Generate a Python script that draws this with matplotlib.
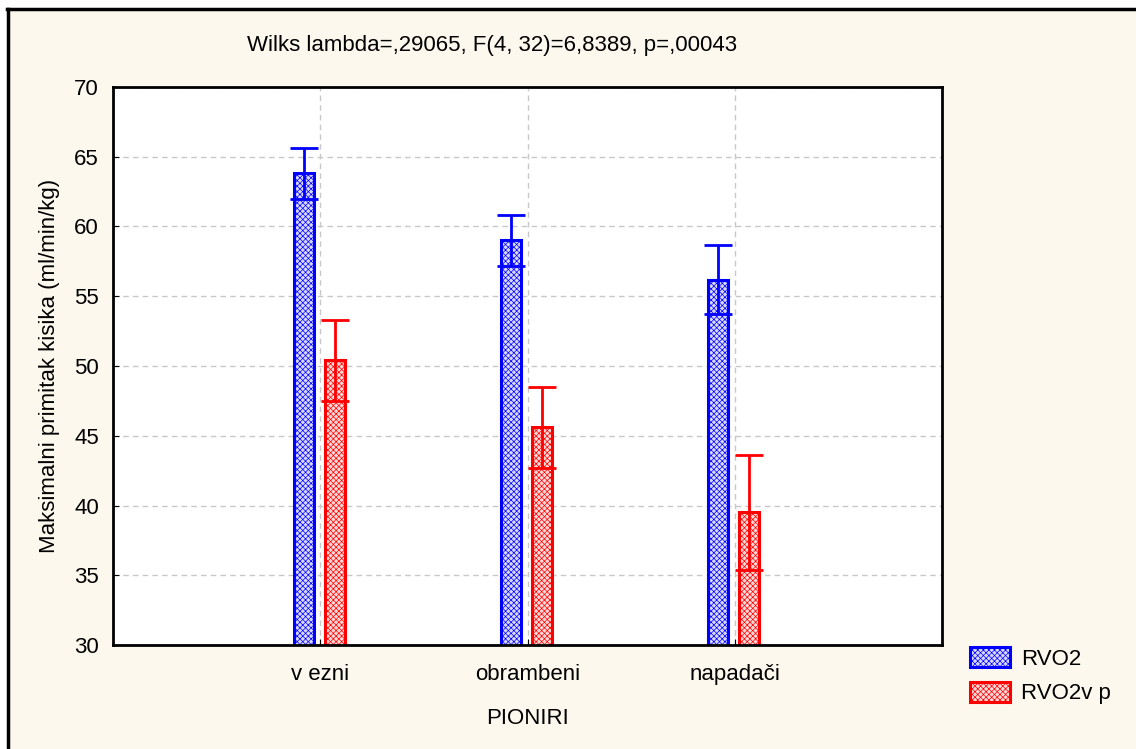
import matplotlib
matplotlib.use('Agg')
import numpy as np
import matplotlib.pyplot as plt
from matplotlib.patches import Rectangle, Patch
from matplotlib.lines import Line2D

plt.rcParams['font.family'] = ['Liberation Sans', 'DejaVu Sans']
plt.rcParams['hatch.linewidth'] = 0.5
font_size = 16

# data
categories = ['v ezni', 'obrambeni', 'napadači']
rvo2_mean = [63.8, 59.0, 56.2]
rvo2_err = [1.8, 1.8, 2.45]
rvo2vp_mean = [50.4, 45.6, 39.5]
rvo2vp_err = [2.9, 2.9, 4.1]
series_names = ['RVO2', 'RVO2v p']
title = 'Wilks lambda=,29065, F(4, 32)=6,8389, p=,00043'

W, H = 1136, 749
fig = plt.figure(figsize=(W/100, H/100), dpi=100)
fig.patch.set_facecolor('#fdf8ee')
# white strips at top and left, black frame line along them
fig.patches.append(Rectangle((0, 1 - 8/H), 1, 8/H, transform=fig.transFigure,
                             facecolor='white', edgecolor='none', zorder=-10))
fig.patches.append(Rectangle((0, 0), 7/W, 1, transform=fig.transFigure,
                             facecolor='white', edgecolor='none', zorder=-10))
fig.lines.append(Line2D([7/W, 1], [1 - 9/H, 1 - 9/H], transform=fig.transFigure,
                        color='black', linewidth=2.5))
fig.lines.append(Line2D([8/W, 8/W], [0, 1 - 9/H], transform=fig.transFigure,
                        color='black', linewidth=2.5))

ax = fig.add_axes([113/W, 1 - 645/H, (942-113)/W, (645-87)/H])
ax.set_facecolor('white')

x = np.arange(len(categories))
w = 0.095
blue_x = x - 0.08
red_x = x + 0.07

ax.bar(blue_x, rvo2_mean, width=w, bottom=0, facecolor='#d8d8ff', edgecolor='#0000ff',
       hatch='xxxxxx', linewidth=2.2, zorder=3)
ax.bar(red_x, rvo2vp_mean, width=w, bottom=0, facecolor='#ffd8d8', edgecolor='#ff0000',
       hatch='xxxxxx', linewidth=2.2, zorder=3)
ax.errorbar(blue_x, rvo2_mean, yerr=rvo2_err, fmt='none', ecolor='#0000ff',
            elinewidth=2, capsize=10, capthick=2, zorder=4)
ax.errorbar(red_x, rvo2vp_mean, yerr=rvo2vp_err, fmt='none', ecolor='#ff0000',
            elinewidth=2, capsize=10, capthick=2, zorder=4)

ax.set_xlim(-1, 3)
ax.set_ylim(30, 70)
ax.set_yticks(np.arange(30, 71, 5))
ax.set_xticks(x)
ax.set_xticklabels(categories, fontsize=font_size)
ax.tick_params(axis='y', direction='in', length=4, labelsize=font_size, pad=10)
ax.tick_params(axis='x', direction='in', length=4, pad=14)
ax.grid(True, color='#c8c8c8', linestyle=(0, (4, 3)), linewidth=1, zorder=0)
for s in ax.spines.values():
    s.set_linewidth(2)
    s.set_zorder(5)

ax.set_ylabel('Maksimalni primitak kisika (ml/min/kg)', fontsize=font_size, labelpad=10)
ax.set_xlabel('PIONIRI', fontsize=font_size, labelpad=16)
fig.text(492/W, 1 - 45/H, title, fontsize=font_size, ha='center', va='center')

handles = [Patch(facecolor='#d8d8ff', edgecolor='#0000ff', hatch='xxxxxx', linewidth=2.2),
           Patch(facecolor='#ffd8d8', edgecolor='#ff0000', hatch='xxxxxx', linewidth=2.2)]
fig.legend(handles, series_names, loc='upper left', bbox_to_anchor=(959/W, 1 - 636/H),
           frameon=False, fontsize=font_size, handlelength=1.8, handleheight=1.0,
           handletextpad=0.5, labelspacing=0.55, borderpad=0)

fig.savefig('out.png', dpi=100, facecolor=fig.get_facecolor())
